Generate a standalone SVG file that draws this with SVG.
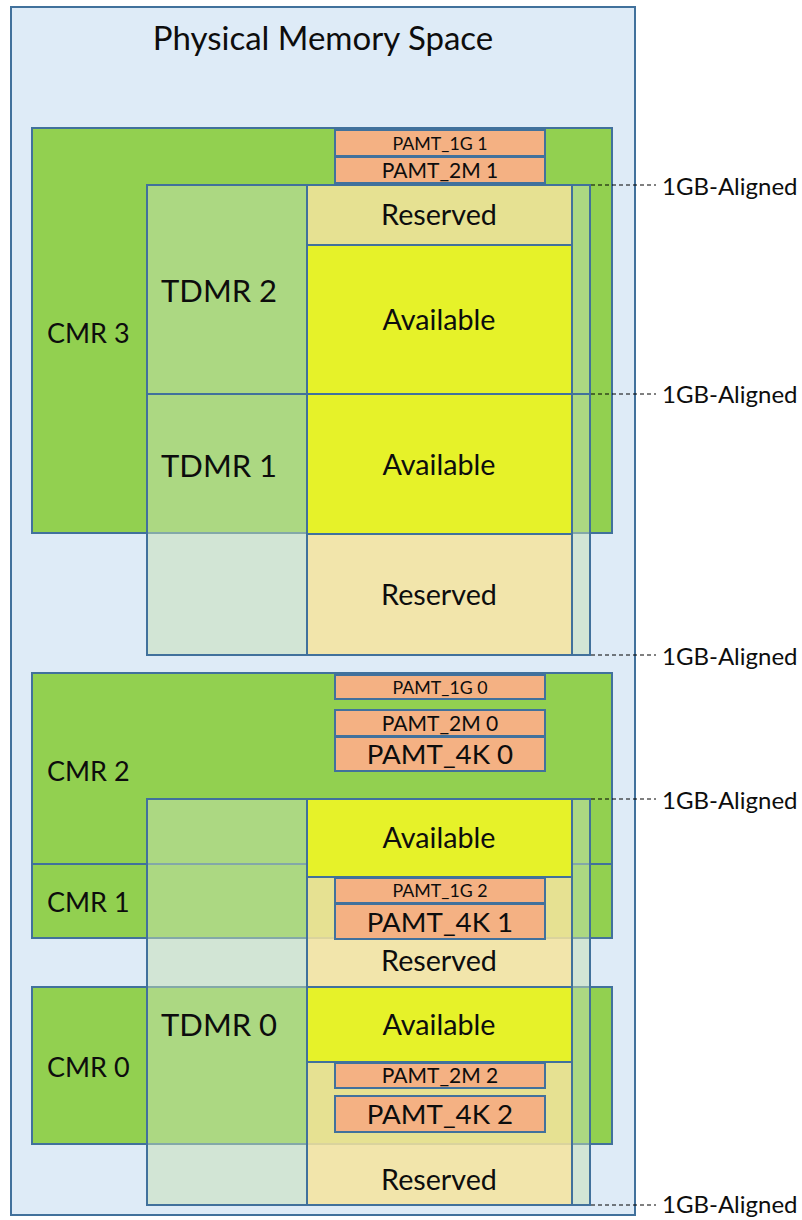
<svg xmlns="http://www.w3.org/2000/svg" width="802" height="1220" viewBox="0 0 802 1220">
<style>
text{font-family:Lato,"Liberation Sans",sans-serif;fill:#0d0d0d}
.b{stroke:#41719C;stroke-width:2}
.outer{fill:#DEEBF7}
.cmr{fill:#92D050}
.tdmr{fill:#C5E0B4;fill-opacity:0.5}
.res{fill:#FFE699;fill-opacity:0.7}
.avl{fill:#E6F229}
.pamt{fill:#F4B183}
.dash{stroke:#000;stroke-width:1;stroke-dasharray:4 3;fill:none}
.m{text-anchor:middle}
.lbl{font-size:24px}
.cl{font-size:27px}
.tl{font-size:31px}
.ra{font-size:28.7px}
.p1{font-size:17.8px}
.p2{font-size:21px}
.p4{font-size:27.7px}
</style>
<g id="physical-memory-space">
<rect class="outer b" x="11" y="7" width="624" height="1208"/>
<text class="m" x="323" y="50" font-size="33">Physical Memory Space</text>
</g>
<g id="cmr3">
<rect class="cmr b" x="32" y="128" width="580" height="405"/>
<text class="cl" x="47" y="343">CMR 3</text>
</g>
<g id="pamt-1g-1"><rect class="pamt b" x="335" y="130" width="210" height="26"/><text class="m p1" x="440" y="149.5">PAMT_1G 1</text></g>
<g id="pamt-2m-1"><rect class="pamt b" x="335" y="157" width="210" height="26"/><text class="m p2" x="440" y="177.5">PAMT_2M 1</text></g>
<g id="tdmr2">
<rect class="tdmr b" x="147" y="185" width="443" height="209"/>
<text class="tl" x="161" y="302">TDMR 2</text>
</g>
<g id="tdmr1">
<rect class="tdmr b" x="147" y="394" width="443" height="261"/>
<text class="tl" x="161" y="477">TDMR 1</text>
</g>
<g id="tdmr2-reserved"><rect class="res b" x="307" y="185" width="265" height="60"/><text class="m ra" x="439" y="225">Reserved</text></g>
<g id="tdmr2-available"><rect class="avl b" x="307" y="245" width="265" height="149"/><text class="m ra" x="439" y="330">Available</text></g>
<g id="tdmr1-available"><rect class="avl b" x="307" y="394" width="265" height="140"/><text class="m ra" x="439" y="475">Available</text></g>
<g id="tdmr1-reserved"><rect class="res b" x="307" y="534" width="265" height="121"/><text class="m ra" x="439" y="605">Reserved</text></g>

<g id="cmr2">
<rect class="cmr b" x="32" y="673" width="580" height="191"/>
<text class="cl" x="47" y="781">CMR 2</text>
</g>
<g id="cmr1">
<rect class="cmr b" x="32" y="864" width="580" height="74"/>
<text class="cl" x="47" y="912">CMR 1</text>
</g>
<g id="cmr0">
<rect class="cmr b" x="32" y="987" width="580" height="157"/>
<text class="cl" x="47" y="1077">CMR 0</text>
</g>
<g id="pamt-1g-0"><rect class="pamt b" x="335" y="675" width="210" height="24"/><text class="m p1" x="440" y="693.5">PAMT_1G 0</text></g>
<g id="pamt-2m-0"><rect class="pamt b" x="335" y="710" width="210" height="26"/><text class="m p2" x="440" y="730.5">PAMT_2M 0</text></g>
<g id="pamt-4k-0"><rect class="pamt b" x="335" y="737" width="210" height="34"/><text class="m p4" x="440" y="764">PAMT_4K 0</text></g>
<g id="tdmr0">
<rect class="tdmr b" x="147" y="799" width="443" height="406"/>
<text class="tl" x="161" y="1036">TDMR 0</text>
</g>
<g id="tdmr0-available-1"><rect class="avl b" x="307" y="799" width="265" height="78"/><text class="m ra" x="439" y="848">Available</text></g>
<g id="tdmr0-reserved-1"><rect class="res b" x="307" y="877" width="265" height="110"/><text class="m ra" x="439" y="971">Reserved</text></g>
<g id="tdmr0-available-2"><rect class="avl b" x="307" y="987" width="265" height="75"/><text class="m ra" x="439" y="1035">Available</text></g>
<g id="tdmr0-reserved-2"><rect class="res b" x="307" y="1062" width="265" height="143"/><text class="m ra" x="439" y="1190">Reserved</text></g>
<g id="pamt-1g-2"><rect class="pamt b" x="335" y="878" width="210" height="25"/><text class="m p1" x="440" y="896.5">PAMT_1G 2</text></g>
<g id="pamt-4k-1"><rect class="pamt b" x="335" y="904" width="210" height="35"/><text class="m p4" x="440" y="932">PAMT_4K 1</text></g>
<g id="pamt-2m-2"><rect class="pamt b" x="335" y="1063" width="210" height="25"/><text class="m p2" x="440" y="1083">PAMT_2M 2</text></g>
<g id="pamt-4k-2"><rect class="pamt b" x="335" y="1096" width="210" height="36"/><text class="m p4" x="440" y="1124">PAMT_4K 2</text></g>

<g id="connectors">
<line class="dash" x1="591" y1="185" x2="656" y2="185"/>
<line class="dash" x1="591" y1="394" x2="656" y2="394"/>
<line class="dash" x1="591" y1="655" x2="656" y2="655"/>
<line class="dash" x1="591" y1="799" x2="656" y2="799"/>
<line class="dash" x1="591" y1="1205" x2="656" y2="1205"/>
</g>
<g id="labels">
<text class="lbl" x="662" y="194.5">1GB-Aligned</text>
<text class="lbl" x="662" y="402.5">1GB-Aligned</text>
<text class="lbl" x="662" y="664.5">1GB-Aligned</text>
<text class="lbl" x="662" y="808.5">1GB-Aligned</text>
<text class="lbl" x="662" y="1213">1GB-Aligned</text>
</g>
</svg>
